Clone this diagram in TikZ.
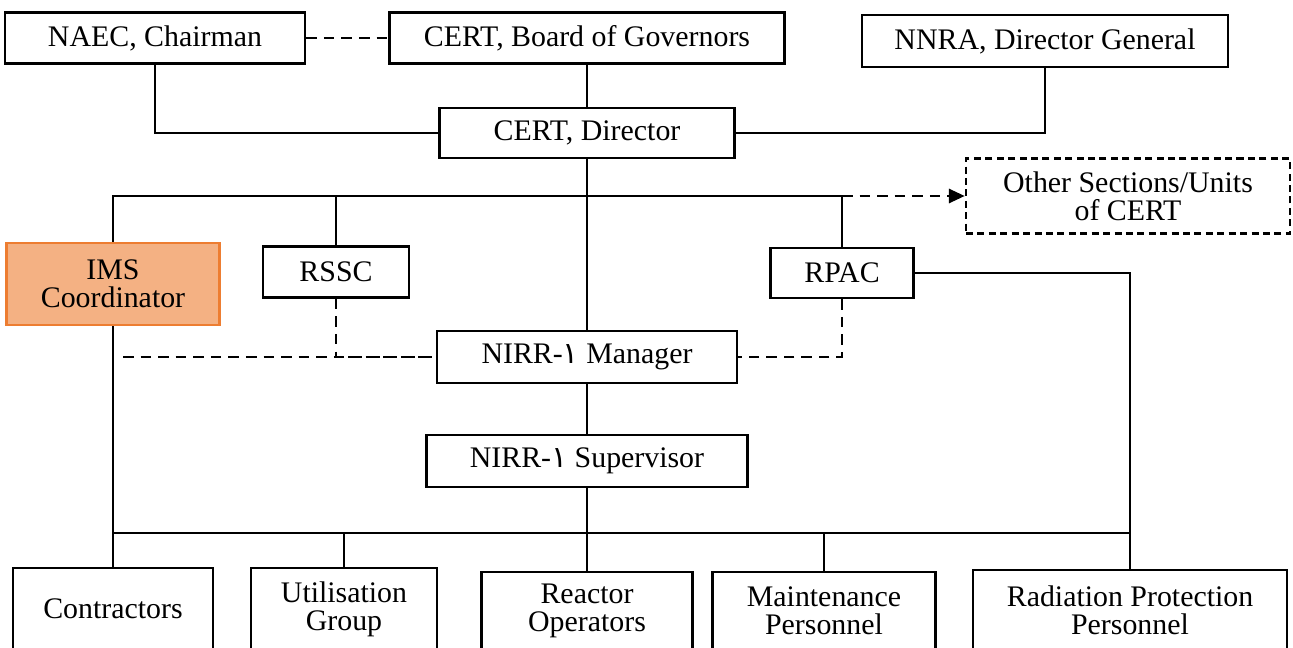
\documentclass[tikz,border=0pt]{standalone}
\usepackage{fontspec}
\setmainfont{Liberation Serif}
\newfontfamily\arabicfont[Script=Arabic]{DejaVu Sans}
\usetikzlibrary{arrows.meta}
\definecolor{imsfill}{HTML}{F4B183}
\definecolor{imsdraw}{HTML}{ED7D31}

\begin{document}
\begin{tikzpicture}[
  x=0.02cm, y=-0.02cm,
  box/.style={draw, line width=1.5pt, align=center, inner sep=2pt, font=\fontsize{17}{16}\selectfont},
  link/.style={line width=1.5pt},
  dlink/.style={line width=1.5pt, dash pattern=on 6pt off 4pt},
]
\clip (0,0) rectangle (1293,648);

% --- top level ---
\node[box, minimum width=6cm, minimum height=1.02cm] (naec) at (155,38) {NAEC, Chairman};
\node[box, minimum width=7.9cm, minimum height=1.02cm] (board) at (587,38) {CERT, Board of Governors};
\node[box, minimum width=7.32cm, minimum height=1.04cm] (nnra) at (1045,41) {NNRA, Director General};
\node[box, minimum width=5.9cm, minimum height=1.0cm] (director) at (587,133) {CERT, Director};
\node[box, dash pattern=on 4pt off 2.5pt, minimum width=6.48cm, minimum height=1.5cm] (other) at (1128,196) {Other Sections/Units\\of CERT};

% --- middle level ---
\node[box, fill=imsfill, draw=imsdraw, minimum width=4.26cm, minimum height=1.64cm] (ims) at (113,284) {IMS\\Coordinator};
\node[box, minimum width=2.92cm, minimum height=1.02cm] (rssc) at (336,272) {RSSC};
\node[box, minimum width=2.86cm, minimum height=1.0cm] (rpac) at (842,273) {RPAC};
\node[box, minimum width=6.0cm, minimum height=1.04cm] (manager) at (587,357) {NIRR-{\arabicfont ١} Manager};
\node[box, minimum width=6.42cm, minimum height=1.04cm] (supervisor) at (587,461) {NIRR-{\arabicfont ١} Supervisor};

% --- bottom level ---
\node[box, minimum width=4.0cm, minimum height=1.64cm] (contractors) at (113,609) {Contractors};
\node[box, minimum width=3.72cm, minimum height=1.64cm] (util) at (344,609) {Utilisation\\Group};
\node[box, minimum width=4.22cm, minimum height=1.56cm] (reactor) at (587,611) {Reactor\\Operators};
\node[box, minimum width=4.46cm, minimum height=1.56cm] (maint) at (824,611) {Maintenance\\Personnel};
\node[box, minimum width=6.28cm, minimum height=1.6cm] (radiation) at (1130,610) {Radiation Protection\\Personnel};

\coordinate (topbus) at (587,196);
\coordinate (botbus) at (587,533);
\coordinate (imsdash) at (123,357);

% --- connectors ---
\draw[dlink] (naec) -- (board);
\draw[link] (board) -- (director);
\draw[link] (naec.south) |- (director.west);
\draw[link] (nnra.south) |- (director.east);
\draw[link] (director) -- (manager);
\draw[link] (ims.north) |- (topbus) -| (rpac.north);
\draw[link] (rssc.north) -- (rssc.north |- topbus);
\draw[dlink, -{Triangle[length=9pt, width=8pt]}] (rpac.north |- topbus) -- (other.west);
\draw[dlink] (rssc.south) |- (manager.west);
\draw[dlink] (imsdash) -- (manager.west);
\draw[dlink] (rpac.south) |- (manager.east);
\draw[link] (rpac.east) -| (radiation.north);
\draw[link] (ims.south) -- (contractors.north);
\draw[link] (manager) -- (supervisor);
\draw[link] (supervisor) -- (reactor);
\draw[link] (contractors.north |- botbus) -- (radiation.north |- botbus);
\draw[link] (util.north) -- (util.north |- botbus);
\draw[link] (maint.north) -- (maint.north |- botbus);

\end{tikzpicture}
\end{document}
